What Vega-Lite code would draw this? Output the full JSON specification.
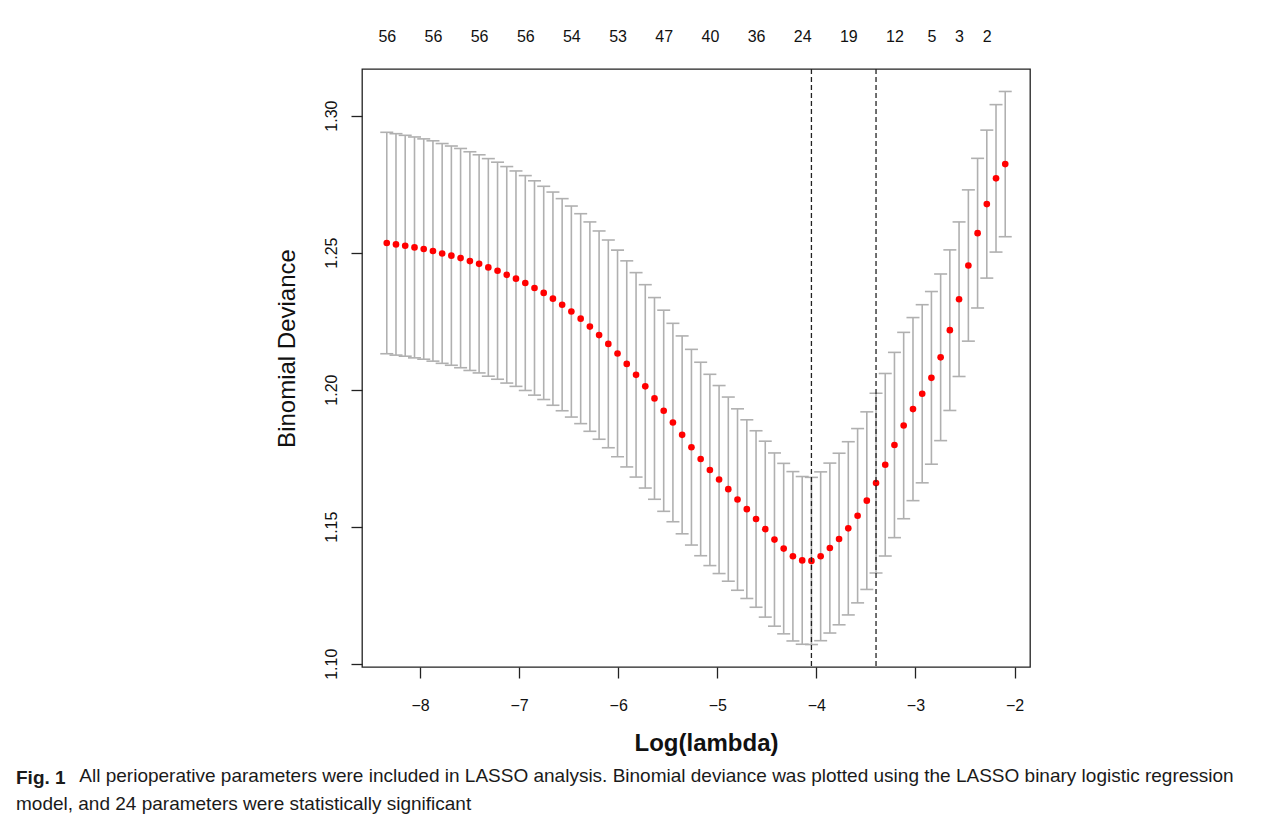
{
  "$schema": "https://vega.github.io/schema/vega-lite/v6.json",
  "width": 668,
  "height": 598,
  "autosize": {"type": "none"},
  "padding": {"left": 362, "top": 69, "right": 255, "bottom": 153},
  "background": "white",
  "datasets": {
    "cv": [
      {"log_lambda": -8.336, "cvm": 1.2535, "cvlo": 1.2131, "cvup": 1.2939},
      {"log_lambda": -8.243, "cvm": 1.2530, "cvlo": 1.2126, "cvup": 1.2934},
      {"log_lambda": -8.150, "cvm": 1.2525, "cvlo": 1.2122, "cvup": 1.2928},
      {"log_lambda": -8.056, "cvm": 1.2519, "cvlo": 1.2116, "cvup": 1.2922},
      {"log_lambda": -7.963, "cvm": 1.2513, "cvlo": 1.2111, "cvup": 1.2915},
      {"log_lambda": -7.870, "cvm": 1.2506, "cvlo": 1.2104, "cvup": 1.2908},
      {"log_lambda": -7.777, "cvm": 1.2497, "cvlo": 1.2096, "cvup": 1.2898},
      {"log_lambda": -7.684, "cvm": 1.2489, "cvlo": 1.2089, "cvup": 1.2889},
      {"log_lambda": -7.591, "cvm": 1.2480, "cvlo": 1.2080, "cvup": 1.2880},
      {"log_lambda": -7.497, "cvm": 1.2469, "cvlo": 1.2070, "cvup": 1.2868},
      {"log_lambda": -7.404, "cvm": 1.2459, "cvlo": 1.2061, "cvup": 1.2857},
      {"log_lambda": -7.311, "cvm": 1.2446, "cvlo": 1.2049, "cvup": 1.2843},
      {"log_lambda": -7.218, "cvm": 1.2434, "cvlo": 1.2038, "cvup": 1.2830},
      {"log_lambda": -7.125, "cvm": 1.2419, "cvlo": 1.2024, "cvup": 1.2814},
      {"log_lambda": -7.032, "cvm": 1.2405, "cvlo": 1.2012, "cvup": 1.2798},
      {"log_lambda": -6.938, "cvm": 1.2389, "cvlo": 1.1997, "cvup": 1.2781},
      {"log_lambda": -6.845, "cvm": 1.2371, "cvlo": 1.1980, "cvup": 1.2762},
      {"log_lambda": -6.752, "cvm": 1.2353, "cvlo": 1.1964, "cvup": 1.2742},
      {"log_lambda": -6.659, "cvm": 1.2332, "cvlo": 1.1943, "cvup": 1.2721},
      {"log_lambda": -6.566, "cvm": 1.2310, "cvlo": 1.1923, "cvup": 1.2697},
      {"log_lambda": -6.473, "cvm": 1.2285, "cvlo": 1.1900, "cvup": 1.2670},
      {"log_lambda": -6.379, "cvm": 1.2259, "cvlo": 1.1876, "cvup": 1.2642},
      {"log_lambda": -6.286, "cvm": 1.2230, "cvlo": 1.1848, "cvup": 1.2612},
      {"log_lambda": -6.193, "cvm": 1.2199, "cvlo": 1.1819, "cvup": 1.2579},
      {"log_lambda": -6.100, "cvm": 1.2167, "cvlo": 1.1788, "cvup": 1.2546},
      {"log_lambda": -6.007, "cvm": 1.2132, "cvlo": 1.1755, "cvup": 1.2509},
      {"log_lambda": -5.914, "cvm": 1.2094, "cvlo": 1.1718, "cvup": 1.2470},
      {"log_lambda": -5.820, "cvm": 1.2054, "cvlo": 1.1681, "cvup": 1.2427},
      {"log_lambda": -5.727, "cvm": 1.2012, "cvlo": 1.1641, "cvup": 1.2383},
      {"log_lambda": -5.634, "cvm": 1.1968, "cvlo": 1.1600, "cvup": 1.2336},
      {"log_lambda": -5.541, "cvm": 1.1923, "cvlo": 1.1556, "cvup": 1.2290},
      {"log_lambda": -5.448, "cvm": 1.1880, "cvlo": 1.1518, "cvup": 1.2242},
      {"log_lambda": -5.355, "cvm": 1.1835, "cvlo": 1.1474, "cvup": 1.2196},
      {"log_lambda": -5.261, "cvm": 1.1790, "cvlo": 1.1433, "cvup": 1.2147},
      {"log_lambda": -5.168, "cvm": 1.1747, "cvlo": 1.1394, "cvup": 1.2100},
      {"log_lambda": -5.075, "cvm": 1.1707, "cvlo": 1.1358, "cvup": 1.2056},
      {"log_lambda": -4.982, "cvm": 1.1672, "cvlo": 1.1329, "cvup": 1.2015},
      {"log_lambda": -4.889, "cvm": 1.1637, "cvlo": 1.1301, "cvup": 1.1973},
      {"log_lambda": -4.796, "cvm": 1.1599, "cvlo": 1.1268, "cvup": 1.1930},
      {"log_lambda": -4.702, "cvm": 1.1564, "cvlo": 1.1238, "cvup": 1.1890},
      {"log_lambda": -4.609, "cvm": 1.1528, "cvlo": 1.1206, "cvup": 1.1850},
      {"log_lambda": -4.516, "cvm": 1.1491, "cvlo": 1.1170, "cvup": 1.1812},
      {"log_lambda": -4.423, "cvm": 1.1453, "cvlo": 1.1137, "cvup": 1.1769},
      {"log_lambda": -4.330, "cvm": 1.1420, "cvlo": 1.1109, "cvup": 1.1731},
      {"log_lambda": -4.237, "cvm": 1.1392, "cvlo": 1.1083, "cvup": 1.1701},
      {"log_lambda": -4.143, "cvm": 1.1377, "cvlo": 1.1071, "cvup": 1.1683},
      {"log_lambda": -4.050, "cvm": 1.1375, "cvlo": 1.1070, "cvup": 1.1680},
      {"log_lambda": -3.957, "cvm": 1.1392, "cvlo": 1.1084, "cvup": 1.1700},
      {"log_lambda": -3.864, "cvm": 1.1422, "cvlo": 1.1112, "cvup": 1.1732},
      {"log_lambda": -3.771, "cvm": 1.1455, "cvlo": 1.1142, "cvup": 1.1768},
      {"log_lambda": -3.678, "cvm": 1.1494, "cvlo": 1.1178, "cvup": 1.1810},
      {"log_lambda": -3.584, "cvm": 1.1540, "cvlo": 1.1222, "cvup": 1.1858},
      {"log_lambda": -3.491, "cvm": 1.1595, "cvlo": 1.1271, "cvup": 1.1919},
      {"log_lambda": -3.398, "cvm": 1.1659, "cvlo": 1.1331, "cvup": 1.1987},
      {"log_lambda": -3.305, "cvm": 1.1726, "cvlo": 1.1393, "cvup": 1.2059},
      {"log_lambda": -3.212, "cvm": 1.1798, "cvlo": 1.1460, "cvup": 1.2136},
      {"log_lambda": -3.119, "cvm": 1.1869, "cvlo": 1.1529, "cvup": 1.2209},
      {"log_lambda": -3.025, "cvm": 1.1929, "cvlo": 1.1595, "cvup": 1.2263},
      {"log_lambda": -2.932, "cvm": 1.1985, "cvlo": 1.1660, "cvup": 1.2310},
      {"log_lambda": -2.839, "cvm": 1.2043, "cvlo": 1.1728, "cvup": 1.2358},
      {"log_lambda": -2.746, "cvm": 1.2118, "cvlo": 1.1814, "cvup": 1.2422},
      {"log_lambda": -2.653, "cvm": 1.2217, "cvlo": 1.1924, "cvup": 1.2510},
      {"log_lambda": -2.560, "cvm": 1.2330, "cvlo": 1.2048, "cvup": 1.2612},
      {"log_lambda": -2.466, "cvm": 1.2453, "cvlo": 1.2177, "cvup": 1.2729},
      {"log_lambda": -2.373, "cvm": 1.2571, "cvlo": 1.2298, "cvup": 1.2844},
      {"log_lambda": -2.280, "cvm": 1.2677, "cvlo": 1.2407, "cvup": 1.2947},
      {"log_lambda": -2.187, "cvm": 1.2771, "cvlo": 1.2502, "cvup": 1.3040},
      {"log_lambda": -2.094, "cvm": 1.2823, "cvlo": 1.2558, "cvup": 1.3088}
    ],
    "chosen": [
      {"log_lambda": -4.050, "which": "lambda.min"},
      {"log_lambda": -3.398, "which": "lambda.1se"}
    ]
  },
  "title": {
    "text": "Fig. 1",
    "subtitle": [
      "\u2060\u00a0\u00a0\u00a0\u00a0\u00a0\u00a0\u00a0\u00a0\u00a0\u00a0\u00a0\u00a0All perioperative parameters were included in LASSO analysis. Binomial deviance was plotted using the LASSO binary logistic regression",
      "model, and 24 parameters were statistically significant"
    ],
    "orient": "bottom",
    "anchor": "start",
    "frame": "group",
    "dx": -346,
    "dy": 6,
    "offset": 8,
    "font": "Liberation Sans",
    "fontSize": 19,
    "fontWeight": "bold",
    "color": "#1a1a1a",
    "subtitleFont": "Liberation Sans",
    "subtitleFontSize": 19,
    "subtitleFontWeight": "normal",
    "subtitleColor": "#1a1a1a",
    "subtitlePadding": -21,
    "subtitleLineHeight": 28
  },
  "resolve": {"axis": {"x": "independent", "y": "independent"}},
  "layer": [
    {
      "data": {"name": "cv"},
      "mark": {"type": "rule", "color": "#b0b0b0", "strokeWidth": 1.6},
      "encoding": {
        "x": {
          "field": "log_lambda", "type": "quantitative",
          "scale": {"domain": [-8.586, -1.844], "nice": false, "zero": false},
          "axis": {
            "orient": "bottom",
            "values": [-8, -7, -6, -5, -4, -3, -2],
            "format": "d",
            "tickSize": 11,
            "labelPadding": 19,
            "title": "Log(lambda)",
            "titleFontSize": 24,
            "titleFontWeight": "bold",
            "titleX": 344,
            "titleY": 64,
            "titleAlign": "center",
            "titleBaseline": "top"
          }
        },
        "y": {
          "field": "cvlo", "type": "quantitative",
          "scale": {"domain": [1.0988, 1.317], "nice": false, "zero": false},
          "axis": {
            "orient": "left",
            "values": [1.1, 1.15, 1.2, 1.25, 1.3],
            "format": ".2f",
            "tickSize": 11,
            "labelPadding": 12,
            "labelAngle": 270,
            "labelAlign": "center",
            "labelBaseline": "bottom",
            "title": "Binomial Deviance",
            "titleFontSize": 24,
            "titleFontWeight": "normal",
            "titleAngle": 270,
            "titleAlign": "center",
            "titleBaseline": "bottom",
            "titleX": -63,
            "titleY": 279
          }
        },
        "y2": {"field": "cvup"}
      }
    },
    {
      "data": {"name": "cv"},
      "mark": {"type": "tick", "orient": "horizontal", "size": 13, "thickness": 1.6, "color": "#b0b0b0", "opacity": 1},
      "encoding": {
        "x": {"field": "log_lambda", "type": "quantitative", "scale": {"domain": [-8.586, -1.844], "nice": false, "zero": false}, "axis": null},
        "y": {"field": "cvup", "type": "quantitative", "scale": {"domain": [1.0988, 1.317], "nice": false, "zero": false}, "axis": null}
      }
    },
    {
      "data": {"name": "cv"},
      "mark": {"type": "tick", "orient": "horizontal", "size": 13, "thickness": 1.6, "color": "#b0b0b0", "opacity": 1},
      "encoding": {
        "x": {"field": "log_lambda", "type": "quantitative", "scale": {"domain": [-8.586, -1.844], "nice": false, "zero": false}, "axis": null},
        "y": {"field": "cvlo", "type": "quantitative", "scale": {"domain": [1.0988, 1.317], "nice": false, "zero": false}, "axis": null}
      }
    },
    {
      "data": {"name": "cv"},
      "mark": {"type": "point", "filled": true, "color": "#ff0000", "size": 44, "opacity": 1, "strokeWidth": 0},
      "encoding": {
        "x": {"field": "log_lambda", "type": "quantitative", "scale": {"domain": [-8.586, -1.844], "nice": false, "zero": false}, "axis": null},
        "y": {"field": "cvm", "type": "quantitative", "scale": {"domain": [1.0988, 1.317], "nice": false, "zero": false}, "axis": null}
      }
    },
    {
      "data": {"name": "chosen"},
      "mark": {"type": "rule", "color": "#222222", "strokeWidth": 1.3, "strokeDash": [5, 3]},
      "encoding": {
        "x": {
          "field": "log_lambda", "type": "quantitative",
          "scale": {"domain": [-8.586, -1.844], "nice": false, "zero": false},
          "axis": {
            "orient": "top",
            "values": [-8.336, -7.870, -7.404, -6.938, -6.473, -6.007, -5.541, -5.075, -4.609, -4.143, -3.678, -3.212, -2.839, -2.560, -2.280],
            "labelExpr": "datum.value < -6.7 ? '56' : datum.value < -6.2 ? '54' : datum.value < -5.8 ? '53' : datum.value < -5.3 ? '47' : datum.value < -4.8 ? '40' : datum.value < -4.4 ? '36' : datum.value < -3.9 ? '24' : datum.value < -3.4 ? '19' : datum.value < -3.0 ? '12' : datum.value < -2.7 ? '5' : datum.value < -2.4 ? '3' : '2'",
            "ticks": false,
            "tickSize": 0,
            "labelPadding": 25,
            "title": null
          }
        }
      }
    }
  ],
  "config": {
    "view": {"stroke": "#222222", "strokeWidth": 1.3},
    "font": "Liberation Sans",
    "axis": {
      "grid": false,
      "domain": false,
      "tickColor": "#222222",
      "tickWidth": 1.3,
      "labelFont": "Liberation Sans",
      "labelFontSize": 16,
      "labelColor": "#111111",
      "labelOverlap": false,
      "labelFlush": false,
      "labelBound": false,
      "titleFont": "Liberation Sans",
      "titleColor": "#111111"
    }
  }
}
